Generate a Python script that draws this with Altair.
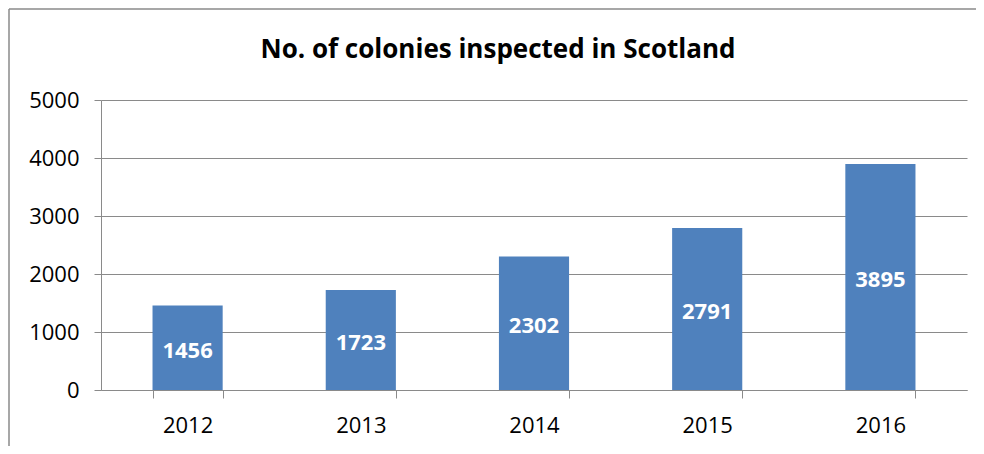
import altair as alt
import pandas as pd

years = ["2012", "2013", "2014", "2015", "2016"]
colonies = [1456, 1723, 2302, 2791, 3895]
y_ticks = [0, 1000, 2000, 3000, 4000, 5000]
title_text = "No. of colonies inspected in Scotland"

df = pd.DataFrame({"year": years, "colonies": colonies})

FONT = "Open Sans"
GRAY = "#8a8a8a"
W, H = 866, 290
PAD = {"left": 93, "top": 92, "right": 9, "bottom": 56}

base = alt.Chart(df)

x_enc = alt.X(
    "year:N",
    sort=years,
    title=None,
    scale=alt.Scale(paddingInner=0.595, paddingOuter=0.2975),
    axis=alt.Axis(
        labelAngle=0,
        labelFontSize=22,
        labelFont=FONT,
        labelColor="black",
        tickBand="extent",
        tickSize=8,
        labelPadding=17,
        domainColor=GRAY,
        tickColor=GRAY,
        grid=False,
    ),
)
y_enc = alt.Y(
    "colonies:Q",
    title=None,
    scale=alt.Scale(domain=[0, 5000], nice=False),
    axis=alt.Axis(
        values=y_ticks,
        format="d",
        labelFontSize=22,
        labelFont=FONT,
        labelColor="black",
        tickSize=7,
        labelPadding=15,
        domainColor=GRAY,
        tickColor=GRAY,
        gridColor=GRAY,
        grid=True,
    ),
)

bars = base.mark_bar(color="#4F81BD").encode(x=x_enc, y=y_enc)

labels = base.transform_calculate(mid="datum.colonies / 2").mark_text(
    color="white", fontWeight="bold", fontSize=22, font=FONT, baseline="middle", dy=3
).encode(
    x=alt.X("year:N", sort=years, title=None),
    y=alt.Y("mid:Q", title=None),
    text=alt.Text("colonies:Q", format="d"),
)

one = alt.Data(values=[{"t": title_text}])
title_mark = alt.Chart(one).mark_text(
    font=FONT, fontSize=26, fontWeight="bold", color="black",
    align="center", baseline="alphabetic",
).encode(x=alt.value(W / 2 - 36), y=alt.value(-42), text="t:N")

border_v = alt.Chart(one).mark_rule(color=GRAY, strokeWidth=1.5).encode(
    x=alt.value(-92), y=alt.value(-91), y2=alt.value(H + PAD["bottom"])
)
border_h = alt.Chart(one).mark_rule(color=GRAY, strokeWidth=1.5).encode(
    x=alt.value(-92), x2=alt.value(W + PAD["right"]), y=alt.value(-91)
)

chart = (
    alt.layer(bars, labels, title_mark, border_v, border_h)
    .properties(
        width=W,
        height=H,
        padding=PAD,
        background="white",
        autosize=alt.AutoSizeParams(type="none"),
    )
    .configure_view(stroke="transparent", strokeWidth=0)
)

chart.save("out.html", embed_options={"renderer": "svg", "actions": False})
